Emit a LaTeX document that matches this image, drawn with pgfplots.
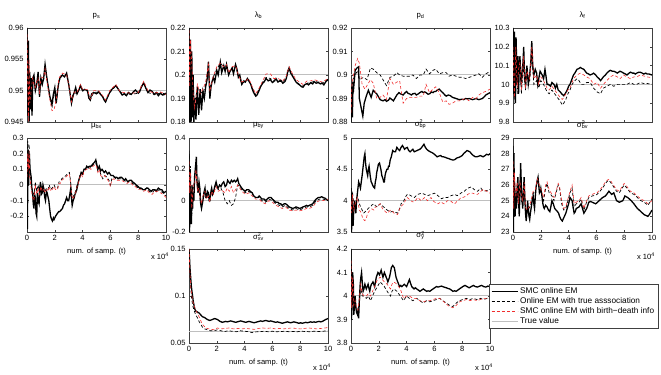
\documentclass[border=0pt]{standalone}
\usepackage{fontspec}
\setmainfont{Liberation Sans}
\usepackage{pgfplots}
\pgfplotsset{compat=1.18}
\definecolor{myred}{RGB}{240,45,45}
\newcommand{\supsub}[2]{\rlap{\textsuperscript{#1}}\textsubscript{#2}}
\pgfplotsset{
 panel/.style={width=139bp,height=94bp,scale only axis,xmin=0,xmax=10,
  xtick={0,2,4,6,8,10},xticklabels={},tick align=inside,major tick length=2bp,
  axis line style={black!75,line width=0.5bp},tick style={black!75,line width=0.4bp},
  tick label style={font=\fontsize{7.6}{8}\selectfont},
  title style={font=\fontsize{7.8}{8}\selectfont,yshift=-0.5bp},
  scaled ticks=false,/pgf/number format/assume math mode=true,
  yticklabel style={/pgf/number format/fixed,/pgf/number format/precision=3},
  xlabel style={font=\fontsize{7.6}{8}\selectfont,yshift=0bp},
  clip=true},
 lab/.style={xticklabels={0,2,4,6,8,10},xlabel={num. of samp. (t)}},
 smc/.style={black,line width=1.3bp,forget plot},
 oem/.style={black,line width=0.7bp,dash pattern=on 3bp off 2.2bp,forget plot},
 bd/.style={myred,line width=0.6bp,dash pattern=on 3bp off 2.2bp,forget plot},
 tv/.style={black!25,line width=1bp,forget plot},
}
\begin{document}
\begin{tikzpicture}
\useasboundingbox (0bp,0bp) rectangle (661bp,375bp);
% ---------------- p_s
\begin{axis}[panel,at={(27bp,253bp)},anchor=south west,title={p\textsubscript{s}},
 ymin=0.945,ymax=0.96,ytick={0.945,0.95,0.955,0.96}]
\addplot[tv] coordinates {(0,0.95)(10,0.95)};
\addplot[smc] coordinates {(0,0.960)(0.05,0.946)(0.1,0.958)(0.15,0.945)(0.2,0.953)(0.25,0.947)(0.3,0.952)(0.36,0.946)(0.42,0.952)(0.5,0.9525)(0.6,0.950)(0.7,0.951)(0.8,0.953)(0.9,0.949)(1.0,0.952)(1.1,0.951)(1.2,0.952)(1.3,0.9542)(1.4,0.9525)(1.5,0.951)(1.65,0.949)(1.8,0.9478)(1.9,0.9495)(2.0,0.9505)(2.1,0.948)(2.2,0.950)(2.3,0.9515)(2.4,0.9522)(2.55,0.9525)(2.7,0.9522)(2.85,0.9528)(3.0,0.951)(3.1,0.9495)(3.2,0.948)(3.3,0.9492)(3.4,0.9497)(3.5,0.9505)(3.6,0.9495)(3.75,0.9502)(3.85,0.9508)(4.0,0.950)(4.15,0.9502)(4.35,0.9500)(4.45,0.9488)(4.55,0.9485)(4.65,0.9495)(4.8,0.9497)(5.0,0.9495)(5.15,0.9498)(5.3,0.9494)(5.45,0.9490)(5.55,0.9485)(5.65,0.9482)(5.8,0.9490)(5.95,0.9497)(6.1,0.9502)(6.25,0.9505)(6.4,0.9508)(6.55,0.9503)(6.7,0.9498)(6.85,0.9493)(7.0,0.9495)(7.15,0.9492)(7.3,0.9497)(7.5,0.9494)(7.65,0.9498)(7.8,0.9501)(8.0,0.9496)(8.1,0.9498)(8.25,0.9507)(8.4,0.9512)(8.55,0.9504)(8.7,0.9497)(8.85,0.9501)(9.0,0.9499)(9.15,0.9494)(9.3,0.9497)(9.45,0.9492)(9.6,0.9496)(9.75,0.9493)(9.9,0.9494)(10,0.9496)};
\addplot[oem] coordinates {(0,0.958)(0.05,0.947)(0.1,0.956)(0.15,0.946)(0.2,0.952)(0.3,0.951)(0.4,0.951)(0.5,0.952)(0.6,0.950)(0.7,0.951)(0.8,0.9525)(0.9,0.9495)(1.0,0.9515)(1.2,0.9518)(1.3,0.9538)(1.5,0.951)(1.65,0.9488)(1.8,0.9475)(2.0,0.950)(2.1,0.948)(2.3,0.9515)(2.55,0.9525)(2.85,0.9525)(3.0,0.951)(3.2,0.948)(3.4,0.9497)(3.6,0.9495)(3.85,0.9508)(4.0,0.950)(4.35,0.950)(4.55,0.9485)(4.8,0.9497)(5.15,0.9498)(5.45,0.949)(5.65,0.9482)(5.95,0.9497)(6.4,0.9508)(6.7,0.9498)(7.0,0.9495)(7.5,0.9494)(8.0,0.9496)(8.4,0.9512)(8.7,0.9497)(9.15,0.9494)(9.6,0.9496)(10,0.9495)};
\addplot[bd] coordinates {(0,0.959)(0.05,0.952)(0.1,0.945)(0.15,0.955)(0.2,0.948)(0.3,0.950)(0.4,0.952)(0.5,0.951)(0.6,0.9505)(0.7,0.9515)(0.8,0.952)(0.9,0.9495)(1.0,0.952)(1.2,0.9522)(1.3,0.9535)(1.5,0.9505)(1.65,0.9485)(1.8,0.9468)(1.95,0.947)(2.1,0.9485)(2.3,0.952)(2.55,0.9528)(2.85,0.9525)(3.0,0.951)(3.2,0.9482)(3.4,0.9498)(3.6,0.9497)(3.85,0.951)(4.0,0.9502)(4.35,0.9502)(4.55,0.9487)(4.8,0.950)(5.15,0.950)(5.45,0.9492)(5.65,0.9485)(5.95,0.950)(6.4,0.951)(6.7,0.9498)(7.0,0.9497)(7.5,0.9496)(8.0,0.9497)(8.4,0.9515)(8.7,0.950)(9.15,0.9496)(9.6,0.9498)(10,0.9494)};
\end{axis}
% ---------------- lambda_b
\begin{axis}[panel,at={(189bp,253bp)},anchor=south west,title={λ\textsubscript{b}},
 ymin=0.18,ymax=0.22,ytick={0.18,0.19,0.2,0.21,0.22}]
\addplot[tv] coordinates {(0,0.2)(10,0.2)};
\addplot[smc] coordinates {(0,0.22)(0.05,0.18)(0.1,0.215)(0.15,0.18)(0.2,0.21)(0.25,0.182)(0.3,0.20)(0.35,0.18)(0.4,0.19)(0.5,0.181)(0.6,0.195)(0.7,0.183)(0.8,0.194)(0.9,0.185)(1.0,0.193)(1.1,0.19)(1.2,0.195)(1.3,0.198)(1.4,0.2057)(1.5,0.19)(1.6,0.196)(1.75,0.199)(1.85,0.197)(2.0,0.202)(2.1,0.2)(2.25,0.2055)(2.35,0.201)(2.5,0.204)(2.6,0.2015)(2.7,0.2045)(2.85,0.2)(2.95,0.2015)(3.1,0.203)(3.2,0.2005)(3.35,0.2045)(3.45,0.2025)(3.55,0.199)(3.65,0.2)(3.8,0.196)(3.95,0.1975)(4.05,0.197)(4.2,0.1985)(4.3,0.1975)(4.45,0.196)(4.55,0.194)(4.65,0.1925)(4.8,0.191)(4.9,0.1915)(5.05,0.1935)(5.15,0.195)(5.3,0.1965)(5.4,0.197)(5.55,0.1985)(5.7,0.1975)(5.85,0.198)(6.0,0.1968)(6.1,0.1972)(6.25,0.1985)(6.4,0.197)(6.6,0.1978)(6.75,0.1965)(6.9,0.1972)(7.0,0.1985)(7.1,0.2015)(7.2,0.203)(7.3,0.201)(7.45,0.1995)(7.6,0.198)(7.7,0.197)(7.85,0.1962)(7.95,0.1958)(8.1,0.195)(8.2,0.1948)(8.35,0.196)(8.5,0.1963)(8.6,0.1958)(8.75,0.1967)(8.9,0.1962)(9.0,0.1972)(9.15,0.1965)(9.3,0.1968)(9.45,0.1962)(9.6,0.1965)(9.7,0.1958)(9.85,0.1972)(10,0.198)};
\addplot[oem] coordinates {(0,0.218)(0.05,0.19)(0.1,0.212)(0.2,0.2)(0.3,0.195)(0.4,0.188)(0.6,0.194)(0.8,0.193)(1.0,0.192)(1.2,0.196)(1.4,0.204)(1.5,0.192)(1.75,0.199)(2.0,0.2025)(2.25,0.205)(2.5,0.2035)(2.7,0.204)(2.85,0.2005)(3.1,0.203)(3.35,0.204)(3.55,0.1995)(3.8,0.1965)(4.05,0.1972)(4.3,0.198)(4.55,0.1945)(4.8,0.1915)(5.05,0.194)(5.3,0.197)(5.55,0.199)(5.85,0.1985)(6.1,0.1975)(6.4,0.1975)(6.75,0.197)(7.0,0.1988)(7.2,0.2028)(7.45,0.1998)(7.7,0.1972)(7.95,0.196)(8.2,0.1952)(8.5,0.1965)(8.75,0.1968)(9.0,0.1973)(9.3,0.197)(9.6,0.1966)(10,0.1982)};
\addplot[bd] coordinates {(0,0.219)(0.05,0.195)(0.1,0.215)(0.2,0.205)(0.3,0.192)(0.4,0.186)(0.6,0.196)(0.8,0.192)(1.0,0.194)(1.2,0.197)(1.4,0.2045)(1.5,0.193)(1.75,0.1995)(2.0,0.2035)(2.25,0.205)(2.5,0.2035)(2.7,0.2045)(2.85,0.201)(3.1,0.2035)(3.35,0.204)(3.55,0.2)(3.8,0.197)(4.05,0.1975)(4.3,0.1985)(4.55,0.195)(4.8,0.192)(5.05,0.1945)(5.3,0.1975)(5.55,0.2005)(5.85,0.2005)(6.1,0.1985)(6.4,0.1985)(6.75,0.1975)(7.0,0.1995)(7.2,0.2035)(7.45,0.2005)(7.7,0.198)(7.95,0.197)(8.2,0.196)(8.5,0.1975)(8.75,0.1975)(9.0,0.198)(9.3,0.1975)(9.6,0.197)(10,0.1985)};
\end{axis}
% ---------------- p_d
\begin{axis}[panel,at={(351bp,253bp)},anchor=south west,title={p\textsubscript{d}},
 ymin=0.88,ymax=0.92,ytick={0.88,0.89,0.9,0.91,0.92}]
\addplot[tv] coordinates {(0,0.9)(10,0.9)};
\addplot[smc] coordinates {(0,0.88)(0.05,0.895)(0.1,0.882)(0.15,0.897)(0.2,0.895)(0.3,0.902)(0.43,0.903)(0.55,0.9035)(0.6,0.890)(0.7,0.887)(0.78,0.8845)(0.85,0.8825)(0.95,0.888)(1.1,0.891)(1.25,0.8935)(1.35,0.892)(1.45,0.8905)(1.6,0.8935)(1.75,0.8925)(1.85,0.892)(2.0,0.8905)(2.1,0.8895)(2.3,0.889)(2.45,0.8895)(2.55,0.8888)(2.7,0.8893)(2.8,0.8902)(2.95,0.8895)(3.05,0.889)(3.2,0.8905)(3.3,0.8915)(3.45,0.8925)(3.55,0.892)(3.75,0.8915)(3.9,0.8925)(4.0,0.893)(4.1,0.8922)(4.2,0.892)(4.35,0.8915)(4.45,0.892)(4.6,0.8922)(4.7,0.8915)(4.85,0.892)(4.95,0.8925)(5.1,0.893)(5.2,0.8925)(5.3,0.8928)(5.4,0.8925)(5.55,0.8918)(5.65,0.892)(5.8,0.8928)(5.9,0.8925)(6.0,0.893)(6.1,0.893)(6.25,0.8938)(6.35,0.894)(6.5,0.893)(6.6,0.8925)(6.75,0.8915)(6.85,0.891)(7.0,0.8915)(7.15,0.8912)(7.3,0.8905)(7.45,0.8902)(7.55,0.890)(7.7,0.8897)(7.8,0.8895)(8.0,0.8897)(8.1,0.8895)(8.25,0.890)(8.4,0.8898)(8.5,0.890)(8.65,0.8897)(8.75,0.8895)(8.9,0.8898)(9.0,0.890)(9.1,0.8897)(9.2,0.8895)(9.35,0.8898)(9.45,0.890)(9.6,0.8908)(9.7,0.8915)(9.85,0.892)(10,0.8925)};
\addplot[oem] coordinates {(0,0.885)(0.07,0.895)(0.15,0.898)(0.3,0.9)(0.48,0.902)(0.6,0.898)(0.9,0.899)(1.15,0.898)(1.4,0.903)(1.6,0.9025)(1.85,0.901)(2.1,0.9)(2.3,0.898)(2.55,0.8955)(2.8,0.899)(3.05,0.8995)(3.3,0.901)(3.5,0.9)(3.75,0.8995)(4.0,0.8995)(4.2,0.8995)(4.45,0.9)(4.7,0.8985)(4.95,0.9)(5.2,0.9)(5.4,0.9025)(5.65,0.9005)(5.9,0.902)(6.1,0.9025)(6.35,0.9005)(6.6,0.901)(6.85,0.901)(7.05,0.8995)(7.3,0.9)(7.55,0.8995)(7.8,0.899)(8.0,0.899)(8.25,0.8985)(8.5,0.899)(8.75,0.8995)(9.0,0.9)(9.2,0.9005)(9.45,0.899)(9.7,0.9005)(10,0.9015)};
\addplot[bd] coordinates {(0,0.884)(0.07,0.896)(0.15,0.899)(0.3,0.904)(0.48,0.907)(0.6,0.905)(0.8,0.896)(1.0,0.894)(1.2,0.896)(1.4,0.898)(1.6,0.8965)(1.85,0.890)(2.1,0.8905)(2.3,0.8915)(2.55,0.8895)(2.8,0.8985)(3.05,0.896)(3.3,0.897)(3.5,0.8975)(3.75,0.888)(4.0,0.890)(4.2,0.8905)(4.45,0.8905)(4.7,0.8905)(4.95,0.891)(5.2,0.891)(5.4,0.896)(5.65,0.8925)(5.9,0.894)(6.1,0.895)(6.35,0.8925)(6.6,0.8885)(6.85,0.889)(7.05,0.8875)(7.3,0.888)(7.55,0.889)(7.8,0.889)(8.0,0.8895)(8.25,0.890)(8.5,0.889)(8.75,0.8905)(9.0,0.890)(9.2,0.8915)(9.45,0.8925)(9.7,0.893)(10,0.894)};
\end{axis}
% ---------------- lambda_f
\begin{axis}[panel,at={(513bp,253bp)},anchor=south west,title={λ\textsubscript{f}},
 ymin=9.8,ymax=10.3,ytick={9.8,9.9,10,10.1,10.2,10.3}]
\addplot[tv] coordinates {(0,10)(10,10)};
\addplot[smc] coordinates {(0,10.3)(0.05,9.95)(0.1,10.28)(0.17,9.9)(0.22,10.25)(0.3,10.0)(0.35,10.15)(0.4,9.95)(0.45,10.1)(0.5,10.15)(0.58,10.0)(0.65,10.05)(0.72,10.12)(0.77,10.2)(0.84,10.02)(0.9,10.0)(1.0,10.1)(1.1,10.0)(1.2,10.05)(1.28,10.12)(1.35,10.23)(1.42,10.1)(1.5,10.05)(1.6,10.08)(1.7,10.06)(1.78,10.0)(1.85,10.03)(1.95,10.07)(2.1,10.05)(2.2,10.03)(2.3,10.08)(2.38,10.04)(2.45,10.0)(2.55,10.0)(2.7,9.99)(2.8,10.01)(2.95,10.0)(3.05,9.98)(3.15,10.0)(3.25,9.97)(3.4,9.96)(3.5,9.95)(3.65,9.94)(3.75,9.95)(3.9,9.97)(4.0,9.99)(4.1,10.0)(4.2,10.02)(4.35,10.05)(4.45,10.06)(4.6,10.08)(4.75,10.085)(4.85,10.09)(4.95,10.085)(5.1,10.08)(5.2,10.07)(5.3,10.06)(5.45,10.055)(5.55,10.05)(5.7,10.055)(5.8,10.06)(5.95,10.05)(6.05,10.04)(6.2,10.03)(6.3,10.02)(6.4,10.03)(6.5,10.04)(6.65,10.05)(6.75,10.06)(6.9,10.07)(7.0,10.075)(7.15,10.07)(7.25,10.07)(7.4,10.065)(7.5,10.06)(7.6,10.065)(7.7,10.07)(7.85,10.065)(7.95,10.06)(8.1,10.055)(8.2,10.05)(8.35,10.06)(8.45,10.065)(8.6,10.06)(8.7,10.06)(8.8,10.055)(8.9,10.06)(9.05,10.065)(9.15,10.065)(9.3,10.06)(9.4,10.055)(9.55,10.06)(9.65,10.055)(9.8,10.055)(10,10.05)};
\addplot[oem] coordinates {(0,10.1)(0.1,9.92)(0.2,10.15)(0.3,9.95)(0.4,10.05)(0.5,10.1)(0.6,9.95)(0.75,10.1)(0.9,9.97)(1.0,10.05)(1.2,10.02)(1.35,10.15)(1.5,10.0)(1.7,10.02)(1.85,9.98)(2.0,10.02)(2.2,10.0)(2.45,9.96)(2.6,9.95)(2.8,9.97)(3.0,9.95)(3.2,9.93)(3.4,9.91)(3.55,9.89)(3.65,9.9)(3.8,9.92)(3.95,9.95)(4.1,9.97)(4.25,10.0)(4.45,10.02)(4.6,10.03)(4.75,10.02)(4.9,10.0)(5.1,10.0)(5.3,10.01)(5.55,10.01)(5.8,9.98)(6.05,9.96)(6.3,9.95)(6.5,9.98)(6.75,9.99)(7.0,10.0)(7.25,9.99)(7.5,10.0)(7.7,10.0)(7.95,10.0)(8.2,10.0)(8.45,10.01)(8.7,10.0)(8.9,10.0)(9.15,10.01)(9.4,10.005)(9.65,10.005)(10,10.0)};
\addplot[bd] coordinates {(0,10.2)(0.1,9.93)(0.2,10.2)(0.3,9.98)(0.4,10.08)(0.5,10.12)(0.6,9.97)(0.75,10.15)(0.9,9.98)(1.0,10.07)(1.2,10.03)(1.35,10.2)(1.5,10.03)(1.7,10.05)(1.85,10.0)(2.0,10.04)(2.2,10.02)(2.45,9.98)(2.6,9.97)(2.8,9.99)(3.0,9.97)(3.2,9.95)(3.4,9.93)(3.55,9.92)(3.65,9.93)(3.8,9.95)(3.95,9.97)(4.1,9.98)(4.35,10.03)(4.6,10.05)(4.85,10.06)(5.1,10.05)(5.3,10.04)(5.55,10.03)(5.8,10.0)(6.05,10.01)(6.3,9.98)(6.5,10.0)(6.75,10.02)(7.0,10.04)(7.25,10.05)(7.5,10.04)(7.7,10.03)(7.95,10.05)(8.2,10.04)(8.45,10.03)(8.7,10.04)(8.9,10.04)(9.15,10.05)(9.4,10.045)(9.65,10.04)(10,10.035)};
\end{axis}
% ---------------- mu_bx
\begin{axis}[panel,lab,name=a5,at={(27bp,143bp)},anchor=south west,title={μ\textsubscript{bx}},
 ymin=-0.3,ymax=0.3,ytick={-0.2,-0.1,0,0.1,0.2,0.3}]
\addplot[tv] coordinates {(0,0)(10,0)};
\addplot[smc] coordinates {(0,0.22)(0.03,-0.28)(0.07,0.22)(0.12,0.0)(0.17,0.2)(0.22,0.1)(0.3,0.05)(0.35,-0.02)(0.4,-0.05)(0.45,-0.12)(0.5,-0.15)(0.55,-0.06)(0.6,-0.08)(0.65,-0.18)(0.7,-0.2)(0.75,-0.05)(0.8,-0.1)(0.87,-0.12)(0.92,-0.02)(0.97,0.02)(1.03,-0.06)(1.1,-0.05)(1.15,0.0)(1.2,-0.02)(1.28,-0.08)(1.33,-0.1)(1.4,-0.04)(1.45,-0.05)(1.52,-0.08)(1.57,-0.1)(1.63,-0.15)(1.7,-0.2)(1.77,-0.22)(1.83,-0.23)(1.9,-0.21)(1.95,-0.22)(2.05,-0.2)(2.12,-0.19)(2.2,-0.18)(2.28,-0.17)(2.35,-0.17)(2.45,-0.16)(2.55,-0.15)(2.62,-0.13)(2.7,-0.12)(2.78,-0.1)(2.85,-0.08)(2.93,-0.1)(3.0,-0.1)(3.08,-0.06)(3.15,-0.02)(3.2,-0.08)(3.25,-0.13)(3.32,-0.1)(3.4,-0.08)(3.45,-0.06)(3.5,-0.05)(3.58,-0.03)(3.65,0.0)(3.72,0.03)(3.8,0.05)(3.9,0.08)(4.0,0.07)(4.1,0.1)(4.2,0.1)(4.3,0.12)(4.4,0.11)(4.5,0.12)(4.6,0.12)(4.7,0.13)(4.8,0.14)(4.9,0.15)(4.95,0.16)(5.05,0.12)(5.1,0.1)(5.2,0.12)(5.3,0.09)(5.4,0.1)(5.55,0.08)(5.65,0.09)(5.8,0.07)(5.9,0.08)(6.05,0.06)(6.2,0.06)(6.3,0.05)(6.45,0.05)(6.55,0.04)(6.7,0.05)(6.8,0.05)(6.9,0.04)(7.0,0.03)(7.1,0.04)(7.25,0.02)(7.4,0.03)(7.5,0.03)(7.6,0.02)(7.75,0.01)(7.85,0.0)(8.0,-0.01)(8.1,-0.02)(8.2,-0.02)(8.35,-0.03)(8.5,-0.03)(8.6,-0.02)(8.7,-0.02)(8.8,-0.03)(8.95,-0.04)(9.05,-0.03)(9.2,-0.03)(9.3,-0.04)(9.45,-0.02)(9.6,-0.03)(9.7,-0.03)(9.85,-0.05)(10,-0.04)};
\addplot[oem] coordinates {(0,0.0)(0.05,0.28)(0.1,0.15)(0.15,0.26)(0.2,0.1)(0.3,0.0)(0.4,-0.04)(0.5,-0.06)(0.6,0.02)(0.7,-0.04)(0.8,0.0)(0.9,-0.05)(1.0,0.0)(1.1,-0.03)(1.2,-0.02)(1.3,-0.04)(1.4,-0.02)(1.5,-0.03)(1.6,0.0)(1.7,-0.03)(1.8,-0.02)(1.95,0.0)(2.05,-0.02)(2.2,-0.02)(2.3,0.02)(2.4,0.02)(2.5,0.04)(2.65,0.05)(2.8,0.06)(2.9,0.07)(3.05,0.08)(3.1,0.05)(3.2,-0.05)(3.3,-0.08)(3.4,-0.06)(3.5,-0.04)(3.6,0.0)(3.7,0.02)(3.8,0.06)(3.9,0.08)(4.0,0.06)(4.1,0.1)(4.3,0.11)(4.45,0.12)(4.6,0.11)(4.75,0.13)(4.9,0.14)(5.0,0.13)(5.1,0.09)(5.2,0.11)(5.3,0.07)(5.45,0.04)(5.6,0.06)(5.75,0.05)(5.9,0.03)(6.0,0.0)(6.1,0.04)(6.25,0.05)(6.4,0.04)(6.6,0.04)(6.8,0.04)(7.0,0.03)(7.2,0.02)(7.4,0.03)(7.6,0.01)(7.8,0.0)(8.0,-0.02)(8.2,-0.02)(8.4,-0.03)(8.6,-0.02)(8.8,-0.04)(9.0,-0.05)(9.2,-0.03)(9.4,-0.03)(9.6,-0.04)(9.8,-0.05)(10,-0.07)};
\addplot[bd] coordinates {(0,0.05)(0.05,0.2)(0.1,0.1)(0.15,0.22)(0.2,0.05)(0.3,-0.02)(0.4,-0.08)(0.5,-0.1)(0.6,0.0)(0.7,-0.06)(0.8,-0.02)(0.9,-0.06)(1.0,-0.01)(1.1,-0.04)(1.2,-0.03)(1.3,-0.05)(1.4,-0.03)(1.5,-0.04)(1.6,-0.01)(1.7,-0.04)(1.8,-0.03)(1.95,-0.01)(2.05,-0.03)(2.2,-0.03)(2.3,0.01)(2.4,0.01)(2.5,0.03)(2.65,0.04)(2.8,0.05)(2.9,0.06)(3.05,0.07)(3.1,0.04)(3.2,-0.06)(3.3,-0.09)(3.4,-0.07)(3.5,-0.05)(3.6,-0.01)(3.7,0.01)(3.8,0.05)(3.9,0.07)(4.0,0.05)(4.1,0.09)(4.3,0.1)(4.45,0.11)(4.6,0.1)(4.75,0.12)(4.9,0.13)(5.0,0.12)(5.1,0.08)(5.2,0.1)(5.3,0.06)(5.45,0.05)(5.6,0.06)(5.75,0.04)(5.9,0.02)(6.0,-0.01)(6.1,0.03)(6.25,0.04)(6.4,0.03)(6.6,0.03)(6.8,0.03)(7.0,0.02)(7.2,0.01)(7.4,0.02)(7.6,0.0)(7.8,-0.01)(8.0,-0.03)(8.2,-0.03)(8.4,-0.04)(8.6,-0.03)(8.8,-0.05)(9.0,-0.06)(9.2,-0.04)(9.4,-0.04)(9.6,-0.05)(9.8,-0.06)(10,-0.08)};
\end{axis}
\node[anchor=north east,font=\fontsize{7.6}{8}\selectfont,inner sep=0pt] at ([xshift=3bp,yshift=-21bp]a5.south east) {x 10\textsuperscript{4}};
% ---------------- mu_by
\begin{axis}[panel,at={(189bp,143bp)},anchor=south west,title={μ\textsubscript{by}},
 ymin=-0.2,ymax=0.4,ytick={-0.2,0,0.2,0.4}]
\addplot[tv] coordinates {(0,0)(10,0)};
\addplot[smc] coordinates {(0,0.3)(0.04,-0.2)(0.08,0.2)(0.12,-0.1)(0.17,-0.15)(0.22,0.1)(0.26,-0.05)(0.3,0.05)(0.35,0.0)(0.4,0.15)(0.45,0.2)(0.5,0.25)(0.53,0.28)(0.58,0.12)(0.65,0.05)(0.72,0.12)(0.78,0.08)(0.84,-0.02)(0.9,-0.05)(1.0,0.0)(1.07,0.05)(1.15,0.08)(1.2,0.02)(1.25,0.02)(1.32,0.06)(1.4,0.05)(1.45,0.0)(1.5,0.0)(1.58,0.06)(1.63,0.08)(1.7,0.04)(1.75,0.05)(1.85,0.09)(1.95,0.12)(2.03,0.09)(2.1,0.08)(2.2,0.1)(2.3,0.09)(2.4,0.11)(2.5,0.12)(2.6,0.09)(2.7,0.1)(2.78,0.13)(2.85,0.12)(2.95,0.11)(3.05,0.13)(3.15,0.12)(3.25,0.13)(3.35,0.12)(3.45,0.13)(3.5,0.14)(3.58,0.11)(3.65,0.1)(3.72,0.09)(3.8,0.08)(3.9,0.07)(4.05,0.06)(4.15,0.07)(4.3,0.07)(4.4,0.06)(4.55,0.05)(4.65,0.03)(4.8,0.02)(4.95,0.02)(5.05,0.03)(5.15,0.02)(5.25,0.01)(5.4,0.01)(5.5,0.0)(5.62,0.01)(5.75,0.02)(5.9,0.02)(6.0,0.01)(6.12,0.0)(6.25,-0.01)(6.4,-0.01)(6.5,-0.02)(6.6,-0.02)(6.7,-0.03)(6.85,-0.02)(6.95,-0.02)(7.1,-0.03)(7.2,-0.04)(7.35,-0.045)(7.45,-0.05)(7.6,-0.045)(7.7,-0.04)(7.85,-0.045)(7.95,-0.05)(8.1,-0.045)(8.2,-0.04)(8.35,-0.035)(8.45,-0.03)(8.55,-0.035)(8.65,-0.03)(8.8,-0.025)(8.9,-0.02)(9.05,0.0)(9.15,0.01)(9.3,0.02)(9.4,0.02)(9.55,0.025)(9.65,0.02)(9.8,0.015)(10,0.0)};
\addplot[oem] coordinates {(0,0.32)(0.05,0.0)(0.1,0.22)(0.2,-0.1)(0.3,0.08)(0.4,0.12)(0.5,0.22)(0.6,0.08)(0.7,0.1)(0.8,0.0)(0.9,-0.03)(1.0,0.02)(1.15,0.07)(1.25,0.02)(1.4,0.04)(1.5,0.0)(1.63,0.07)(1.75,0.05)(1.95,0.1)(2.1,0.07)(2.3,0.08)(2.45,0.05)(2.6,0.0)(2.75,-0.02)(2.9,0.0)(3.05,-0.03)(3.2,-0.02)(3.35,0.02)(3.5,0.1)(3.65,0.09)(3.8,0.07)(4.05,0.05)(4.3,0.06)(4.55,0.04)(4.8,0.02)(5.05,0.02)(5.25,0.0)(5.5,-0.01)(5.75,0.01)(6.0,0.0)(6.25,-0.02)(6.5,-0.03)(6.7,-0.04)(6.95,-0.03)(7.2,-0.05)(7.45,-0.06)(7.7,-0.05)(7.95,-0.06)(8.2,-0.05)(8.45,-0.04)(8.65,-0.04)(8.9,-0.03)(9.15,0.0)(9.4,0.01)(9.65,0.01)(10,0.0)};
\addplot[bd] coordinates {(0,0.25)(0.05,0.05)(0.1,0.18)(0.2,-0.05)(0.3,0.1)(0.4,0.1)(0.5,0.2)(0.6,0.06)(0.7,0.08)(0.8,0.02)(0.9,-0.02)(1.0,0.03)(1.15,0.06)(1.25,0.01)(1.4,0.03)(1.5,-0.01)(1.63,0.06)(1.75,0.04)(1.95,0.09)(2.1,0.06)(2.3,0.07)(2.45,0.06)(2.6,0.05)(2.75,0.08)(2.9,0.06)(3.05,0.09)(3.2,0.05)(3.35,0.07)(3.5,0.1)(3.65,0.08)(3.8,0.06)(4.05,0.04)(4.3,0.05)(4.55,0.03)(4.8,0.01)(5.05,0.01)(5.25,-0.01)(5.5,-0.02)(5.75,0.0)(6.0,-0.01)(6.25,-0.03)(6.5,-0.04)(6.7,-0.05)(6.95,-0.04)(7.2,-0.06)(7.45,-0.065)(7.7,-0.06)(7.95,-0.065)(8.2,-0.06)(8.45,-0.05)(8.65,-0.05)(8.9,-0.04)(9.15,-0.01)(9.4,0.0)(9.65,0.0)(10,0.01)};
\end{axis}
% ---------------- sigma_bp
\begin{axis}[panel,at={(351bp,143bp)},anchor=south west,title={σ\supsub{2}{bp}},
 ymin=3.5,ymax=5,ytick={3.5,4,4.5,5}]
\addplot[tv] coordinates {(0,4)(10,4)};
\addplot[smc] coordinates {(0,4.2)(0.04,3.5)(0.08,4.1)(0.12,3.7)(0.15,3.6)(0.2,3.85)(0.25,4.0)(0.3,3.9)(0.35,3.8)(0.4,4.0)(0.45,4.1)(0.5,4.2)(0.55,4.3)(0.62,4.25)(0.68,4.2)(0.74,4.3)(0.8,4.4)(0.85,4.5)(0.9,4.6)(0.95,4.7)(1.0,4.75)(1.05,4.6)(1.1,4.5)(1.15,4.45)(1.2,4.4)(1.25,4.5)(1.3,4.55)(1.38,4.4)(1.45,4.3)(1.5,4.28)(1.55,4.25)(1.62,4.22)(1.7,4.2)(1.75,4.3)(1.8,4.35)(1.85,4.45)(1.9,4.5)(1.97,4.58)(2.05,4.6)(2.1,4.55)(2.15,4.5)(2.22,4.4)(2.3,4.35)(2.35,4.3)(2.4,4.3)(2.45,4.4)(2.5,4.45)(2.58,4.5)(2.65,4.5)(2.7,4.55)(2.75,4.55)(2.82,4.65)(2.9,4.7)(2.95,4.75)(3.0,4.8)(3.1,4.78)(3.2,4.78)(3.3,4.85)(3.4,4.82)(3.5,4.8)(3.6,4.85)(3.7,4.88)(3.78,4.85)(3.85,4.82)(3.95,4.84)(4.05,4.85)(4.15,4.8)(4.25,4.78)(4.35,4.8)(4.45,4.82)(4.55,4.78)(4.65,4.79)(4.75,4.8)(4.85,4.81)(4.95,4.82)(5.05,4.84)(5.15,4.87)(5.25,4.9)(5.35,4.85)(5.45,4.82)(5.55,4.8)(5.7,4.78)(5.8,4.77)(5.95,4.75)(6.05,4.73)(6.2,4.7)(6.3,4.71)(6.45,4.72)(6.55,4.7)(6.65,4.7)(6.8,4.69)(6.9,4.68)(7.05,4.67)(7.15,4.66)(7.3,4.65)(7.4,4.65)(7.5,4.66)(7.6,4.68)(7.75,4.69)(7.85,4.7)(8.0,4.72)(8.1,4.75)(8.25,4.78)(8.35,4.8)(8.45,4.79)(8.55,4.78)(8.7,4.74)(8.8,4.72)(8.95,4.7)(9.05,4.7)(9.2,4.71)(9.3,4.72)(9.4,4.71)(9.5,4.7)(9.65,4.72)(9.75,4.74)(9.9,4.73)(10,4.75)};
\addplot[oem] coordinates {(0,4.2)(0.05,3.9)(0.1,4.15)(0.2,3.95)(0.3,3.9)(0.45,4.1)(0.6,3.95)(0.7,3.9)(0.8,3.85)(0.9,3.8)(1.0,3.82)(1.15,3.85)(1.25,3.88)(1.4,3.9)(1.5,3.93)(1.65,3.95)(1.75,3.92)(1.9,3.9)(2.0,3.93)(2.1,3.95)(2.25,3.92)(2.35,3.9)(2.5,3.87)(2.6,3.85)(2.75,3.83)(2.85,3.82)(3.0,3.83)(3.1,3.82)(3.25,3.81)(3.35,3.8)(3.45,3.85)(3.55,3.9)(3.6,3.95)(3.7,3.97)(3.8,4.0)(3.95,4.07)(4.05,4.1)(4.15,4.1)(4.3,4.08)(4.45,4.06)(4.55,4.05)(4.7,4.08)(4.8,4.1)(4.95,4.11)(5.05,4.12)(5.2,4.11)(5.3,4.1)(5.4,4.09)(5.5,4.08)(5.65,4.09)(5.75,4.1)(5.9,4.11)(6.0,4.12)(6.15,4.1)(6.25,4.08)(6.4,4.05)(6.5,4.03)(6.6,4.04)(6.7,4.05)(6.85,4.05)(6.95,4.05)(7.1,4.07)(7.2,4.08)(7.35,4.09)(7.45,4.1)(7.55,4.09)(7.65,4.08)(7.8,4.1)(7.9,4.12)(8.05,4.14)(8.15,4.15)(8.3,4.18)(8.4,4.2)(8.55,4.21)(8.65,4.22)(8.75,4.2)(8.85,4.18)(9.0,4.16)(9.1,4.15)(9.25,4.18)(9.35,4.2)(9.45,4.17)(9.55,4.15)(9.75,4.16)(10,4.18)};
\addplot[bd] coordinates {(0,4.0)(0.05,3.8)(0.1,4.1)(0.2,3.85)(0.3,3.95)(0.45,4.05)(0.6,3.85)(0.7,3.82)(0.8,3.75)(0.9,3.7)(1.0,3.68)(1.1,3.72)(1.2,3.8)(1.3,3.83)(1.4,3.85)(1.5,3.87)(1.65,3.85)(1.75,3.9)(1.9,3.9)(2.0,3.93)(2.1,3.95)(2.25,3.88)(2.35,3.85)(2.5,3.82)(2.6,3.8)(2.75,3.83)(2.85,3.85)(3.0,3.82)(3.1,3.8)(3.25,3.79)(3.35,3.78)(3.45,3.83)(3.55,3.9)(3.7,3.93)(3.8,3.95)(3.95,4.02)(4.05,4.05)(4.15,4.03)(4.3,4.0)(4.45,3.98)(4.55,3.98)(4.7,4.02)(4.8,4.05)(4.95,4.02)(5.05,4.0)(5.2,4.03)(5.3,4.05)(5.4,4.02)(5.5,4.0)(5.65,4.03)(5.75,4.05)(5.9,4.0)(6.0,3.98)(6.15,3.96)(6.25,3.95)(6.4,3.97)(6.5,3.98)(6.6,3.96)(6.7,3.95)(6.85,3.98)(6.95,4.0)(7.1,4.0)(7.2,3.99)(7.35,3.96)(7.45,3.95)(7.55,3.97)(7.65,4.0)(7.8,4.02)(7.9,4.05)(8.05,4.05)(8.15,4.06)(8.3,4.08)(8.4,4.1)(8.55,4.12)(8.65,4.12)(8.75,4.12)(8.85,4.11)(9.0,4.1)(9.1,4.1)(9.25,4.13)(9.35,4.15)(9.45,4.17)(9.55,4.18)(9.75,4.15)(10,4.12)};
\end{axis}
% ---------------- sigma_bv
\begin{axis}[panel,lab,name=a8,at={(513bp,143bp)},anchor=south west,title={σ\supsub{2}{bv}},
 ymin=23,ymax=29,ytick={23,24,25,26,27,28,29}]
\addplot[tv] coordinates {(0,25)(10,25)};
\addplot[smc] coordinates {(0,28.5)(0.03,23.0)(0.06,28.0)(0.1,26.0)(0.15,24.0)(0.2,25.5)(0.25,24.5)(0.3,25.8)(0.35,26.5)(0.4,25.0)(0.45,24.0)(0.5,25.5)(0.55,27.4)(0.6,26.0)(0.65,25.0)(0.7,24.5)(0.75,25.5)(0.8,26.5)(0.85,25.2)(0.9,24.2)(0.95,23.7)(1.0,24.2)(1.05,25.0)(1.1,24.5)(1.15,24.0)(1.2,23.8)(1.25,24.2)(1.3,24.5)(1.38,25.0)(1.45,25.3)(1.5,24.8)(1.55,24.5)(1.6,25.2)(1.65,25.8)(1.72,26.2)(1.8,26.5)(1.85,26.0)(1.9,25.5)(1.95,25.6)(2.0,25.8)(2.08,25.3)(2.15,24.8)(2.2,24.6)(2.25,24.5)(2.35,24.7)(2.45,24.6)(2.55,24.4)(2.65,24.3)(2.72,24.6)(2.8,25.0)(2.9,24.8)(3.0,24.5)(3.1,24.4)(3.2,24.3)(3.28,24.2)(3.35,24.0)(3.45,23.8)(3.55,23.7)(3.62,23.85)(3.7,24.0)(3.8,24.2)(3.9,24.5)(4.0,24.8)(4.1,25.2)(4.18,25.1)(4.25,25.0)(4.32,24.6)(4.4,24.2)(4.48,24.3)(4.55,24.5)(4.65,24.55)(4.75,24.6)(4.82,24.7)(4.9,24.8)(5.0,24.5)(5.1,24.2)(5.2,24.35)(5.3,24.5)(5.38,24.7)(5.45,24.9)(5.58,24.95)(5.7,24.9)(5.82,24.85)(5.95,24.8)(6.08,24.9)(6.2,25.0)(6.32,25.1)(6.45,25.2)(6.55,25.25)(6.65,25.3)(6.78,25.45)(6.9,25.6)(7.0,25.5)(7.1,25.4)(7.18,25.45)(7.25,25.5)(7.35,25.25)(7.45,25.0)(7.55,24.95)(7.65,24.9)(7.78,24.95)(7.9,25.0)(7.98,25.15)(8.05,25.3)(8.15,25.25)(8.25,25.2)(8.38,25.1)(8.5,25.0)(8.6,24.9)(8.7,24.8)(8.82,24.65)(8.95,24.5)(9.08,24.4)(9.2,24.3)(9.32,24.2)(9.45,24.1)(9.58,24.05)(9.7,24.0)(9.8,24.1)(9.9,24.25)(10,24.4)};
\addplot[oem] coordinates {(0,28.0)(0.05,24.0)(0.1,26.5)(0.2,25.0)(0.3,26.0)(0.4,24.5)(0.5,26.3)(0.6,25.0)(0.7,24.8)(0.8,26.0)(0.9,24.5)(1.0,24.3)(1.15,24.5)(1.3,24.8)(1.45,25.5)(1.6,25.5)(1.75,26.3)(1.9,25.8)(2.05,25.4)(2.2,25.0)(2.35,25.8)(2.45,26.1)(2.6,25.5)(2.8,25.3)(2.95,25.0)(3.1,25.5)(3.25,26.0)(3.35,25.8)(3.5,24.8)(3.65,24.4)(3.8,24.5)(3.95,25.0)(4.1,25.5)(4.25,25.8)(4.4,24.6)(4.55,24.8)(4.75,24.9)(4.9,25.1)(5.1,24.4)(5.25,24.8)(5.45,25.2)(5.7,25.3)(5.95,25.35)(6.05,25.4)(6.25,25.6)(6.45,25.8)(6.65,26.1)(6.85,26.3)(7.0,26.2)(7.15,26.0)(7.3,25.8)(7.45,25.6)(7.65,25.5)(7.85,25.8)(8.0,26.0)(8.2,25.8)(8.45,25.5)(8.7,25.4)(8.95,25.2)(9.2,25.0)(9.45,24.9)(9.7,24.7)(9.85,24.9)(10,25.1)};
\addplot[bd] coordinates {(0,27.5)(0.05,24.5)(0.1,26.8)(0.2,25.2)(0.3,26.2)(0.4,24.8)(0.5,26.3)(0.6,25.3)(0.7,25.0)(0.8,26.2)(0.9,24.6)(1.0,24.4)(1.15,24.6)(1.3,25.0)(1.45,25.6)(1.6,25.7)(1.75,26.4)(1.9,26.0)(2.05,25.6)(2.2,25.2)(2.35,26.0)(2.45,26.2)(2.6,25.7)(2.8,25.4)(2.95,25.2)(3.1,25.6)(3.25,26.1)(3.35,25.9)(3.5,25.0)(3.65,24.5)(3.8,24.6)(3.95,25.1)(4.1,25.6)(4.25,26.0)(4.4,24.8)(4.55,24.9)(4.75,25.0)(4.9,25.2)(5.1,24.5)(5.25,24.9)(5.45,25.3)(5.7,25.4)(5.95,25.5)(6.05,25.5)(6.25,25.7)(6.45,25.9)(6.65,26.2)(6.85,26.35)(7.0,26.3)(7.15,26.1)(7.3,25.9)(7.45,25.7)(7.65,25.6)(7.85,25.9)(8.0,26.1)(8.2,25.9)(8.45,25.6)(8.7,25.5)(8.95,25.3)(9.2,25.1)(9.45,25.0)(9.7,24.8)(9.85,24.9)(10,25.0)};
\end{axis}
\node[anchor=north east,font=\fontsize{7.6}{8}\selectfont,inner sep=0pt] at ([xshift=3bp,yshift=-21bp]a8.south east) {x 10\textsuperscript{4}};
% ---------------- sigma_xv
\begin{axis}[panel,lab,name=a9,at={(189bp,32bp)},anchor=south west,title={σ\supsub{2}{xv}},
 ymin=0.05,ymax=0.15,ytick={0.05,0.1,0.15}]
\addplot[tv] coordinates {(0,0.0625)(10,0.0625)};
\addplot[smc] coordinates {(0,0.15)(0.04,0.14)(0.07,0.13)(0.12,0.12)(0.17,0.11)(0.22,0.104)(0.26,0.1)(0.3,0.095)(0.36,0.09)(0.42,0.086)(0.48,0.084)(0.55,0.0835)(0.6,0.083)(0.66,0.0825)(0.72,0.082)(0.78,0.081)(0.84,0.08)(0.9,0.079)(0.96,0.078)(1.05,0.0775)(1.13,0.077)(1.22,0.076)(1.32,0.075)(1.4,0.0745)(1.5,0.074)(1.6,0.0745)(1.68,0.075)(1.76,0.0755)(1.85,0.076)(1.95,0.0755)(2.04,0.075)(2.14,0.074)(2.23,0.073)(2.32,0.0725)(2.4,0.072)(2.52,0.0725)(2.64,0.073)(2.76,0.0725)(2.88,0.073)(3.0,0.0735)(3.12,0.073)(3.24,0.0725)(3.36,0.072)(3.48,0.0725)(3.6,0.073)(3.72,0.0735)(3.84,0.073)(3.96,0.0725)(4.08,0.072)(4.2,0.0725)(4.32,0.073)(4.44,0.0725)(4.56,0.072)(4.68,0.0715)(4.8,0.072)(4.92,0.0725)(5.04,0.073)(5.16,0.0735)(5.28,0.073)(5.4,0.0735)(5.52,0.074)(5.64,0.0735)(5.76,0.073)(5.88,0.0735)(6.0,0.073)(6.12,0.0725)(6.24,0.072)(6.36,0.0725)(6.47,0.072)(6.6,0.0715)(6.7,0.071)(6.83,0.0715)(6.95,0.072)(7.08,0.0725)(7.2,0.072)(7.32,0.0715)(7.43,0.072)(7.55,0.0725)(7.67,0.072)(7.8,0.0715)(7.9,0.071)(8.03,0.0715)(8.15,0.071)(8.28,0.0715)(8.4,0.072)(8.52,0.0715)(8.63,0.072)(8.75,0.0725)(8.87,0.072)(9.0,0.0725)(9.1,0.072)(9.22,0.0725)(9.35,0.073)(9.48,0.0725)(9.6,0.073)(9.72,0.074)(9.83,0.075)(9.92,0.0755)(10,0.076)};
\addplot[oem] coordinates {(0,0.15)(0.07,0.12)(0.17,0.1)(0.26,0.09)(0.36,0.085)(0.48,0.08)(0.6,0.077)(0.72,0.073)(0.84,0.07)(0.96,0.067)(1.13,0.065)(1.32,0.064)(1.56,0.063)(1.8,0.063)(2.04,0.064)(2.3,0.063)(2.52,0.062)(2.8,0.063)(3.1,0.0625)(3.4,0.062)(3.7,0.063)(4.0,0.0625)(4.3,0.062)(4.56,0.061)(4.8,0.0618)(5.1,0.062)(5.4,0.0625)(5.7,0.062)(6.0,0.0625)(6.3,0.062)(6.6,0.0622)(6.9,0.0625)(7.2,0.062)(7.5,0.0623)(7.8,0.062)(8.1,0.0625)(8.4,0.0622)(8.7,0.062)(9.0,0.0625)(9.3,0.0622)(9.6,0.0625)(10,0.063)};
\addplot[bd] coordinates {(0,0.15)(0.07,0.125)(0.12,0.11)(0.26,0.095)(0.48,0.085)(0.72,0.078)(0.96,0.07)(1.2,0.066)(1.44,0.065)(1.8,0.064)(2.04,0.066)(2.3,0.065)(2.6,0.0655)(2.88,0.066)(3.2,0.065)(3.5,0.0655)(3.8,0.065)(4.1,0.0655)(4.4,0.065)(4.7,0.0645)(5.0,0.0655)(5.3,0.066)(5.6,0.0655)(5.9,0.066)(6.2,0.065)(6.5,0.0655)(6.8,0.065)(7.1,0.0655)(7.4,0.066)(7.7,0.0655)(8.0,0.065)(8.3,0.0655)(8.6,0.066)(8.9,0.0655)(9.2,0.065)(9.5,0.0655)(9.8,0.066)(10,0.0665)};
\end{axis}
\node[anchor=north east,font=\fontsize{7.6}{8}\selectfont,inner sep=0pt] at ([xshift=3bp,yshift=-21bp]a9.south east) {x 10\textsuperscript{4}};
% ---------------- sigma_y
\begin{axis}[panel,lab,name=a10,at={(351bp,32bp)},anchor=south west,title={σ\supsub{2}{y}},
 ymin=3.8,ymax=4.2,ytick={3.8,3.9,4,4.1,4.2},
 legend style={at={(0.99,0.63)},anchor=north west,draw=black!75,line width=0.5bp,
  font=\fontsize{8.3}{10}\selectfont,inner xsep=2bp,inner ysep=1.5bp,row sep=-1.4bp,cells={anchor=west}},
 legend image code/.code={\draw[#1] (0bp,0bp) -- (26bp,0bp);}]
\addplot[tv] coordinates {(0,4)(10,4)};
\addplot[smc] coordinates {(0,4.2)(0.03,3.9)(0.07,3.95)(0.12,4.1)(0.17,4.05)(0.2,3.92)(0.24,3.95)(0.3,4.0)(0.35,3.95)(0.4,3.93)(0.47,3.92)(0.52,3.95)(0.55,3.905)(0.6,3.98)(0.66,4.05)(0.71,4.08)(0.76,4.1)(0.82,4.05)(0.87,4.02)(0.93,4.03)(1.0,4.05)(1.05,4.04)(1.1,4.03)(1.17,4.04)(1.23,4.05)(1.3,4.03)(1.35,4.02)(1.41,4.04)(1.47,4.05)(1.53,4.055)(1.58,4.06)(1.64,4.05)(1.7,4.04)(1.76,4.06)(1.82,4.08)(1.88,4.09)(1.94,4.1)(2.0,4.095)(2.05,4.09)(2.11,4.1)(2.17,4.11)(2.23,4.095)(2.3,4.08)(2.35,4.09)(2.4,4.1)(2.47,4.09)(2.53,4.08)(2.6,4.07)(2.65,4.06)(2.71,4.07)(2.77,4.08)(2.84,4.1)(2.9,4.12)(2.95,4.125)(3.0,4.13)(3.06,4.125)(3.12,4.12)(3.18,4.1)(3.24,4.08)(3.3,4.07)(3.36,4.06)(3.43,4.05)(3.5,4.04)(3.58,4.045)(3.66,4.04)(3.75,4.045)(3.83,4.05)(3.92,4.045)(4.0,4.04)(4.1,4.055)(4.2,4.07)(4.28,4.055)(4.37,4.04)(4.45,4.035)(4.54,4.03)(4.63,4.035)(4.73,4.03)(4.85,4.025)(4.96,4.02)(5.08,4.025)(5.2,4.03)(5.32,4.025)(5.44,4.02)(5.55,4.022)(5.67,4.02)(5.78,4.025)(5.9,4.03)(6.02,4.035)(6.15,4.04)(6.26,4.038)(6.38,4.04)(6.5,4.042)(6.6,4.04)(6.73,4.037)(6.86,4.035)(6.98,4.032)(7.1,4.03)(7.22,4.025)(7.33,4.02)(7.45,4.022)(7.57,4.02)(7.68,4.025)(7.8,4.03)(7.92,4.035)(8.04,4.04)(8.2,4.045)(8.35,4.04)(8.5,4.035)(8.65,4.04)(8.8,4.045)(8.95,4.04)(9.1,4.038)(9.25,4.042)(9.4,4.045)(9.55,4.04)(9.7,4.038)(9.85,4.042)(10,4.04)};
\addplot[oem] coordinates {(0,4.1)(0.05,3.92)(0.12,4.05)(0.2,3.95)(0.3,3.97)(0.4,3.94)(0.5,3.93)(0.6,3.97)(0.7,4.04)(0.8,4.0)(0.95,4.0)(1.1,3.99)(1.25,4.0)(1.4,3.98)(1.55,4.0)(1.7,4.02)(1.9,4.04)(2.1,4.06)(2.25,4.05)(2.4,4.04)(2.6,4.02)(2.84,4.0)(2.95,4.02)(3.07,4.03)(3.2,4.025)(3.3,4.02)(3.55,4.0)(3.78,3.98)(4.0,4.0)(4.2,3.99)(4.45,3.98)(4.73,3.99)(4.95,3.98)(5.2,3.97)(5.44,3.98)(5.67,3.975)(5.9,3.98)(6.15,3.985)(6.38,3.99)(6.6,3.98)(6.86,3.97)(7.1,3.96)(7.33,3.955)(7.57,3.97)(7.8,3.98)(8.04,3.985)(8.3,3.99)(8.55,3.985)(8.8,3.99)(9.05,3.985)(9.3,3.99)(9.55,3.985)(9.8,3.99)(10,3.985)};
\addplot[bd] coordinates {(0,4.15)(0.05,3.95)(0.12,4.08)(0.2,3.96)(0.3,3.98)(0.4,3.95)(0.5,3.94)(0.6,3.99)(0.7,4.05)(0.8,4.01)(0.95,4.0)(1.1,4.0)(1.25,4.01)(1.4,4.0)(1.55,4.02)(1.7,4.04)(1.9,4.07)(2.1,4.08)(2.25,4.07)(2.4,4.06)(2.6,4.05)(2.84,4.03)(2.95,4.05)(3.07,4.06)(3.2,4.055)(3.3,4.05)(3.55,4.03)(3.78,3.99)(4.0,4.0)(4.2,4.0)(4.45,3.99)(4.73,3.99)(4.95,3.98)(5.2,3.975)(5.44,3.98)(5.67,3.98)(5.9,3.985)(6.15,3.99)(6.38,3.99)(6.6,3.98)(6.86,3.965)(7.1,3.955)(7.33,3.95)(7.57,3.96)(7.8,3.975)(8.04,3.98)(8.3,3.985)(8.55,3.98)(8.8,3.985)(9.05,3.98)(9.3,3.985)(9.55,3.99)(9.8,3.99)(10,3.99)};
\addlegendimage{black,line width=1.3bp}
\addlegendentry{SMC online EM}
\addlegendimage{black,line width=0.7bp,dash pattern=on 3bp off 2.2bp}
\addlegendentry{Online EM with true asssociation}
\addlegendimage{myred,line width=0.6bp,dash pattern=on 3bp off 2.2bp}
\addlegendentry{SMC online EM with birth−death info}
\addlegendimage{black!25,line width=1bp}
\addlegendentry{True value}
\end{axis}
\node[anchor=north east,font=\fontsize{7.6}{8}\selectfont,inner sep=0pt] at ([xshift=3bp,yshift=-21bp]a10.south east) {x 10\textsuperscript{4}};
\end{tikzpicture}
\end{document}
